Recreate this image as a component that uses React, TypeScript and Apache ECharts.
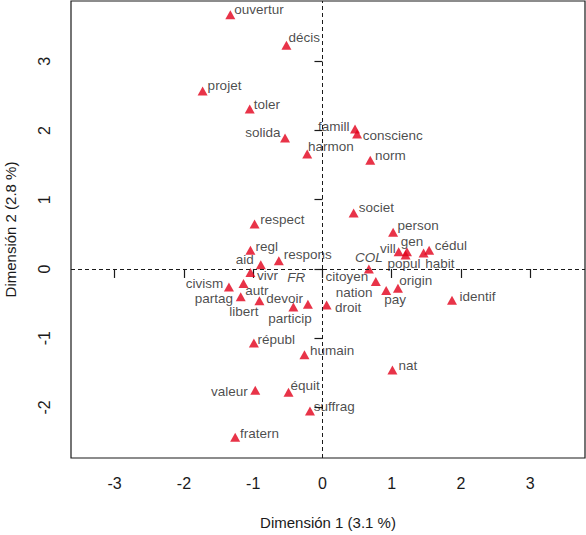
import React, { useEffect, useRef } from "react";
import * as echarts from "echarts";

// ---- data ----
const words = [
  "ouvertur", "décis", "projet", "toler", "solida", "famill", "conscienc", "harmon", "norm",
  "societ", "respect", "person", "regl", "respons", "aid", "vill", "gen", "popul", "habit", "cédul",
  "citoyen", "vivr", "civism", "autr", "partag", "libert", "particip", "devoir", "droit",
  "nation", "pay", "origin", "identif", "républ", "humain", "nat", "valeur", "équit", "suffrag", "fratern",
];
const dim1 = [
  -1.33, -0.52, -1.73, -1.05, -0.54, 0.47, 0.5, -0.22, 0.69,
  0.45, -0.98, 1.02, -1.04, -0.63, -0.89, 1.1, 1.22, 1.2, 1.46, 1.54,
  0.67, -1.04, -1.35, -1.14, -1.18, -0.91, -0.42, -0.21, 0.06,
  0.77, 0.92, 1.09, 1.87, -0.99, -0.26, 1.01, -0.97, -0.49, -0.18, -1.26,
];
const dim2 = [
  3.67, 3.23, 2.57, 2.31, 1.89, 2.02, 1.95, 1.66, 1.57,
  0.81, 0.65, 0.53, 0.27, 0.12, 0.06, 0.25, 0.25, 0.2, 0.23, 0.27,
  0.0, -0.05, -0.26, -0.21, -0.4, -0.46, -0.55, -0.51, -0.52,
  -0.18, -0.31, -0.28, -0.45, -1.07, -1.24, -1.46, -1.75, -1.78, -2.05, -2.43,
];
const suppWords = ["COL", "FR"];
const suppDim1 = [0.67, -0.38];
const suppDim2 = [0.17, -0.12];
const xTicks = [-3, -2, -1, 0, 1, 2, 3];
const yTicks = [-2, -1, 0, 1, 2, 3];
const xTitle = "Dimensión 1 (3.1 %)";
const yTitle = "Dimensión 2 (2.8 %)";

// ---- label placement (layout only): [align, dx, dy] in pixels from the marker ----
const labelPlacement: Record<string, [string, number, number]> = {
  ouvertur: ["left", 4, -5],
  "décis": ["left", 2, -8],
  projet: ["left", 5, -6],
  toler: ["left", 4, -4.5],
  solida: ["right", -4.5, -6],
  famill: ["right", -5.6, -2.6],
  conscienc: ["left", 5.6, 2],
  harmon: ["left", 0.7, -8],
  norm: ["left", 4.8, -4.3],
  societ: ["left", 5, -5],
  respect: ["left", 5.7, -4],
  person: ["left", 4.4, -7],
  regl: ["left", 5, -4],
  respons: ["left", 5, -5.7],
  aid: ["right", -7, -5],
  vill: ["right", -3, -3.4],
  gen: ["center", 5, -10],
  "cédul": ["left", 5.7, -4.3],
  popul: ["center", -1.6, 8.3],
  habit: ["left", 1.7, 10],
  citoyen: ["right", -0.7, 7.7],
  vivr: ["left", 6.6, 3.3],
  civism: ["right", -5.7, -3.3],
  autr: ["left", 1.7, 7.4],
  partag: ["right", -7.7, 1.6],
  libert: ["right", -1, 10.7],
  devoir: ["right", -5, -5.3],
  particip: ["center", -3.3, 11],
  droit: ["left", 8.3, 3],
  nation: ["right", -3.3, 11],
  pay: ["left", -2, 9.3],
  origin: ["left", 1.3, -7.6],
  identif: ["left", 7.6, -4],
  "républ": ["left", 3.7, -3.3],
  humain: ["left", 5.6, -4.3],
  nat: ["left", 6, -4.3],
  valeur: ["right", -7.4, 1.7],
  "équit": ["left", 1.9, -6.6],
  suffrag: ["left", 3.7, -4],
  fratern: ["left", 4.9, -3.4],
};

const FONT = '"Liberation Sans", Arial, Helvetica, sans-serif';
const INK = "#1a1a1a";
const RED = "#e2001a";

export default function App() {
  const ref = useRef<HTMLDivElement>(null);
  useEffect(() => {
    if (!ref.current) return;
    const chart = echarts.init(ref.current, undefined, { renderer: "svg" });
    const wordData = words.map((w, i) => {
      const p = labelPlacement[w] || ["left", 4, -5];
      return {
        name: w,
        value: [dim1[i], dim2[i]],
        label: { align: p[0], offset: [p[1], p[2]] },
      };
    });
    const suppData = suppWords.map((w, i) => ({ name: w, value: [suppDim1[i], suppDim2[i]] }));
    chart.setOption({
      animation: false,
      grid: {
        left: 71,
        top: 1,
        width: 514,
        height: 457,
        show: true,
        borderColor: INK,
        borderWidth: 1.2,
        backgroundColor: "transparent",
        containLabel: false,
        outerBoundsMode: "none",
      },
      xAxis: {
        type: "value",
        min: -3.63,
        max: 3.79,
        name: xTitle,
        nameLocation: "middle",
        nameGap: 57,
        nameTextStyle: { fontFamily: FONT, fontSize: 15, color: INK },
        axisLine: { show: false },
        axisTick: { show: true, length: 9, inside: false, customValues: xTicks, lineStyle: { color: INK, width: 1.2 } },
        axisLabel: { customValues: xTicks, margin: 17.5, fontFamily: FONT, fontSize: 16, color: INK },
        splitLine: { show: false },
      },
      yAxis: {
        type: "value",
        min: -2.73,
        max: 3.87,
        name: yTitle,
        nameLocation: "middle",
        nameGap: 53,
        nameRotate: 90,
        nameTextStyle: { fontFamily: FONT, fontSize: 15, color: INK },
        axisLine: { show: false },
        axisTick: { show: true, length: 8, inside: false, customValues: yTicks, lineStyle: { color: INK, width: 1.2 } },
        axisLabel: { customValues: yTicks, rotate: 90, margin: 19, fontFamily: FONT, fontSize: 16, color: INK },
        splitLine: { show: false },
      },
      series: [
        {
          type: "scatter",
          data: wordData,
          symbol: "triangle",
          symbolSize: [10, 9],
          itemStyle: { color: RED },
          silent: true,
          label: {
            show: true,
            position: "inside",
            formatter: "{b}",
            fontFamily: FONT,
            fontSize: 13.5,
            color: INK,
            verticalAlign: "middle",
          },
          markLine: {
            silent: true,
            symbol: "none",
            label: { show: false },
            lineStyle: { type: [4, 3], color: INK, width: 1 },
            data: [{ xAxis: 0 }, { yAxis: 0 }],
          },
        },
        {
          type: "scatter",
          data: suppData,
          symbolSize: 0,
          silent: true,
          label: {
            show: true,
            position: "inside",
            formatter: "{b}",
            fontFamily: FONT,
            fontSize: 13.5,
            fontStyle: "italic",
            color: INK,
            align: "center",
            verticalAlign: "middle",
          },
        },
      ],
    });
    return () => chart.dispose();
  }, []);
  return (
    <div
      ref={ref}
      style={{ position: "absolute", left: 0, top: 0, width: 586, height: 535, background: "#fff" }}
    />
  );
}
